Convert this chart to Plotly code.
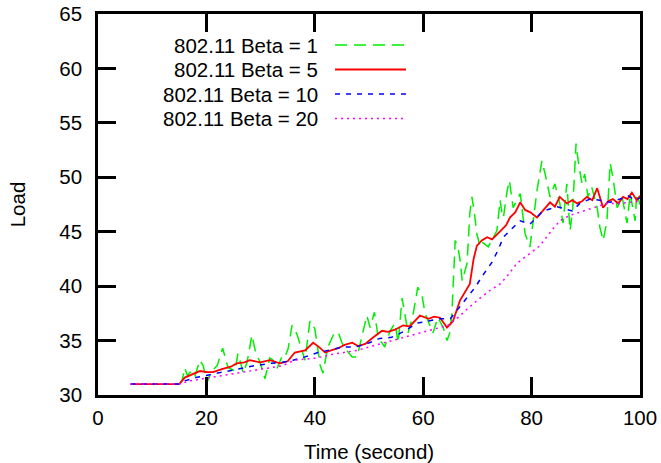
import plotly.graph_objects as go

# Beta = 1 (raw, noisy load)
t_beta1 = [15, 15.5, 16, 16.5, 17, 17.8, 18.8, 19.4, 20.1, 20.6, 21.2, 22, 23, 23.5, 24,
           25.3, 25.8, 26.3, 26.8, 27.5, 28.4, 29, 29.9, 30.8, 31.7, 32.3, 33, 34, 34.5, 35.1,
           35.8, 36.7, 37.3, 38.2, 39.1, 40, 41, 41.5, 42.4, 43.4, 44.3, 45, 45.9, 46.9, 47.8,
           48.7, 49.6, 50.2, 51, 51.7, 52.9, 53.9, 54.8, 55.4, 56.1, 56.6, 57.2, 58.1, 59, 59.8,
           60.3, 60.9, 61.8, 62.7, 63.7, 64.4, 64.9, 65.3, 65.5, 65.9, 66.4, 66.8, 67.2, 68.1,
           68.6, 69, 69.5, 69.9, 70.5, 71, 72, 72.7, 73.6, 74.2, 74.5, 74.8, 75.5, 75.9, 76.6,
           77.9, 78.8, 79.7, 80.3, 81, 81.9, 82.5, 83.4, 84.3, 85.2, 85.8, 86.5, 87.1, 87.6, 88.2,
           88.6, 89.3, 89.8, 90.4, 91.1, 92.1, 92.6, 93.2, 93.9, 94.5, 95, 95.8, 96.7, 97.6, 98.2,
           98.7, 99.1, 99.4, 100]
load_beta1 = [31.0, 31.3, 32.5, 31.8, 32.1, 31.6, 33.2, 32.7, 31.1, 31.8, 32.3, 32.7, 34.3, 33.4, 32.5,
              32.2, 33.8, 33.0, 32.0, 33.0, 35.5, 34.1, 33.0, 31.5, 33.4, 33.2, 32.4, 33.6, 33.5, 34.3,
              36.4, 35.6, 34.6, 33.2, 36.8, 36.1, 32.7, 32.0, 34.4, 35.5, 35.8, 34.8, 34.1, 33.5, 33.5,
              35.3, 37.3, 36.2, 37.6, 35.3, 34.4, 35.9, 36.6, 34.8, 38.9, 37.5, 35.7, 37.3, 39.9, 39.1,
              37.6, 36.8, 35.7, 37.1, 36.2, 35.0, 35.7, 37.5, 39.6, 44.2, 43.6, 42.4, 40.5, 42.1,
              46.7, 48.2, 46.5, 44.8, 43.6, 44.0, 43.6, 44.2, 45.1, 47.9, 46.8, 46.3, 48.8, 49.7, 47.2,
              48.5, 44.8, 43.6, 46.0, 48.8, 51.5, 50.3, 48.2, 49.4, 47.6, 45.8, 49.4, 45.1, 47.2, 53.1,
              51.5, 49.4, 50.3, 48.2, 49.1, 47.2, 45.4, 44.2, 46.0, 51.3, 50.0, 47.2, 48.2, 45.8, 48.5,
              47.2, 46.0, 48.5, 47.5]

# Beta = 5
t_beta5 = [6, 15, 16, 17.5, 18.8, 20.1, 21.2, 23, 24.5, 25.6, 27, 28, 29.9, 31.7, 33.6, 35, 36.3,
           38.2, 39.7, 40.8, 41.9, 43, 44.3, 45.5, 46.9, 48, 49.3, 50.8, 52.4, 53.5, 54.8, 56.3,
           57.5, 59.4, 61, 62, 63.1, 64.4, 65.5, 66.8, 67.8, 68.6, 69.3, 69.9, 70.8, 71.8, 72.7,
           73.6, 74.5, 75.3, 76, 77, 77.9, 78.8, 79.7, 81, 82.2, 83.4, 84.3, 85.2, 86.5, 87.5, 88.4,
           89.3, 90.2, 91.2, 92.1, 93.2, 94.1, 95, 96, 96.9, 97.7, 98.5, 99.4, 100]
load_beta5 = [31.0, 31.0, 31.6, 31.9, 32.2, 32.1, 32.1, 32.4, 32.6, 32.9, 33.0, 33.2, 33.0, 33.2, 32.9, 33.1, 33.9,
              34.1, 34.8, 34.4, 33.9, 34.1, 34.3, 34.6, 34.8, 34.5, 34.7, 35.3, 35.9, 35.8, 36.0, 36.4,
              36.3, 37.3, 37.0, 37.2, 37.1, 36.2, 36.8, 38.7, 39.5, 40.2, 42.5, 43.7, 44.2, 44.5, 44.3,
              44.8, 45.2, 45.6, 46.3, 46.8, 47.7, 47.0, 46.8, 46.3, 47.0, 47.7, 47.3, 48.2, 47.6, 47.9, 47.6,
              47.8, 48.2, 47.9, 49.0, 47.2, 47.8, 48.0, 47.6, 48.2, 48.0, 48.6, 47.9, 48.3]

# Beta = 10
t_beta10 = [6, 15, 16, 18, 20, 22, 24.4, 26.8, 29, 31.7, 34, 36, 38.2, 40.6, 43.2, 45.2, 47.4, 49.6,
            52, 54.2, 56.3, 58.9, 61, 63.1, 65, 66.4, 68.1, 69.6, 71, 72.7, 73.8, 74.8, 76.4, 77.9,
            79.7, 82.1, 84.7, 87.5, 88.9, 90.8, 92.6, 94.5, 96.3, 97.8, 99.1, 100]
load_beta10 = [31.0, 31.0, 31.3, 31.6, 31.8, 32.0, 32.3, 32.5, 32.7, 32.9, 33.0, 33.2, 33.5, 33.9, 34.2, 34.4, 34.4, 34.7,
               35.2, 35.3, 35.8, 36.6, 36.8, 37.0, 37.0, 37.9, 39.0, 39.9, 41.0, 42.2, 43.3, 44.5, 45.3, 46.0,
               45.7, 46.9, 47.3, 46.9, 47.6, 48.0, 47.9, 47.7, 48.0, 48.3, 47.9, 48.1]

# Beta = 20
t_beta20 = [6, 15, 17, 22, 26.8, 31.7, 34.1, 36.3, 40.4, 42.8, 45.2, 47.8, 50.6, 52, 54.2, 56.3, 59.4,
            63.1, 64.6, 66.4, 68.1, 70.5, 72.3, 74.2, 75.6, 77.3, 79.2, 81.5, 84, 85.2, 87.1, 88.9,
            91.3, 93.9, 96.3, 98.5, 100]
load_beta20 = [31.0, 31.0, 31.3, 31.7, 32.1, 32.5, 32.7, 33.2, 33.4, 33.7, 33.9, 34.1, 34.5, 34.7, 35.0, 35.3, 35.7,
               36.2, 36.4, 37.1, 37.9, 38.9, 39.6, 40.2, 41.0, 42.1, 42.8, 43.7, 45.3, 46.0, 46.5, 46.8,
               47.2, 47.6, 47.6, 47.7, 47.8]

series_names = ["802.11 Beta = 1", "802.11 Beta = 5", "802.11 Beta = 10", "802.11 Beta = 20"]
x_ticks = [0, 20, 40, 60, 80, 100]
y_ticks = [30, 35, 40, 45, 50, 55, 60, 65]

FONT = "Liberation Sans, Arial, Helvetica, sans-serif"
FS = 20.5

styles = [
    dict(color="#00ee00", width=1.5, dash="12px,7px"),
    dict(color="#ff0000", width=1.8, dash="solid"),
    dict(color="#0000ff", width=1.5, dash="5px,6px"),
    dict(color="#ff00ff", width=1.5, dash="2px,4px"),
]
xs = [t_beta1, t_beta5, t_beta10, t_beta20]
ys = [load_beta1, load_beta5, load_beta10, load_beta20]

fig = go.Figure()
for name, x, y, st in zip(series_names, xs, ys, styles):
    fig.add_trace(go.Scatter(x=x, y=y, mode="lines", name=name, line=st, showlegend=False))

# Key in the upper-left corner: right-aligned labels followed by line samples
L, R, T, B = 98, 640, 14, 395
W, H = R - L, B - T
def px_x(p):
    return (p - L) / W
def px_y(p):
    return (B - p) / H

row_y = [45, 69.5, 94, 118.5]
for name, st, ry in zip(series_names, styles, row_y):
    fig.add_annotation(x=px_x(320), y=px_y(ry), xref="paper", yref="paper", text=name,
                       showarrow=False, xanchor="right", yanchor="middle",
                       font=dict(family=FONT, size=FS, color="black"))
    fig.add_shape(type="line", xref="paper", yref="paper",
                  x0=px_x(335), x1=px_x(406), y0=px_y(ry), y1=px_y(ry),
                  line=st)

axis_common = dict(showline=True, linecolor="black", linewidth=2.5, mirror="ticks",
                   ticks="inside", ticklen=18, tickwidth=2.5, tickcolor="black",
                   showgrid=False, zeroline=False, automargin=False,
                   tickfont=dict(family=FONT, size=FS, color="black"))

fig.update_layout(
    width=661, height=463,
    margin=dict(l=L, r=661 - R, t=T, b=463 - B),
    plot_bgcolor="white", paper_bgcolor="white",
    font=dict(family=FONT, size=FS, color="black"),
    xaxis=dict(range=[0, 100], tickvals=x_ticks, ticklabelstandoff=3,
               title=dict(text="Time (second)", font=dict(family=FONT, size=FS), standoff=18),
               **axis_common),
    yaxis=dict(range=[30, 65], tickvals=y_ticks, ticklabelstandoff=9,
               title=dict(text="Load", font=dict(family=FONT, size=FS), standoff=29),
               **axis_common),
)

fig.write_html("out.html")
